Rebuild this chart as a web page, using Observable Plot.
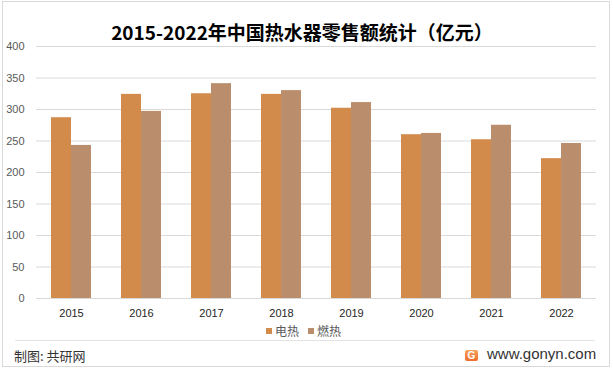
<!DOCTYPE html>
<html>
<head>
<meta charset="utf-8">
<script src="https://cdn.jsdelivr.net/npm/d3@7"></script>
<script src="https://cdn.jsdelivr.net/npm/@observablehq/plot@0.6"></script>
<style>
  html, body { margin: 0; padding: 0; background: #fff; }
  #wrap { position: relative; width: 613px; height: 368px; overflow: hidden; background: #fff; }
  #wrap svg { position: absolute; left: 0; top: 0; }
  .abs { position: absolute; white-space: nowrap; }
</style>
</head>
<body>
<div id="wrap">
  <div class="abs" style="left:2px;top:1px;width:606px;height:364px;border:1px solid #d9d9d9;"></div>
  <div id="chart"></div>
  <div class="abs" id="title" style="left:0;top:19px;width:604px;text-align:center;font-family:'Noto Sans CJK SC',sans-serif;font-weight:bold;font-size:19px;line-height:26px;color:#000;"></div>
  <div id="legend"></div>
  <div class="abs" style="left:15px;top:340px;width:580px;height:1px;background:#e3e3e3;"></div>
  <div class="abs" id="credit" style="left:14px;top:347px;font-family:'Noto Sans CJK SC',sans-serif;font-size:13px;line-height:18px;color:#333;"></div>
  <div class="abs" style="left:465px;top:350px;width:13px;height:11px;border-radius:2px;background:linear-gradient(180deg,#f7a35c,#ef6c2a);color:#fff;font:bold 10px/11px 'Liberation Sans',Arial,sans-serif;text-align:center;">G</div>
  <div class="abs" id="site" style="left:487px;top:345px;font-family:'Liberation Sans',Arial,sans-serif;font-size:15px;line-height:18px;color:#333;"></div>
</div>
<script>
const titleText = "2015-2022年中国热水器零售额统计（亿元）";
const years = ["2015","2016","2017","2018","2019","2020","2021","2022"];
const seriesNames = ["电热","燃热"];
const elec = [287,324,325,324,302,260,252,222];
const gas  = [243,297,341,330,311,262,275,246];
const yTicks = [0,50,100,150,200,250,300,350,400];
const colors = ["#D38B4C","#BA8E6C"];
const creditText = "制图: 共研网";
const siteText = "www.gonyn.com";

const data = years.map((y, i) => ({year: y, elec: elec[i], gas: gas[i]}));

const chart = Plot.plot({
  width: 613,
  height: 368,
  marginTop: 46,
  marginBottom: 70,
  marginLeft: 36,
  marginRight: 17,
  style: {fontFamily: "'Liberation Sans', Arial, sans-serif", fontSize: "11px", background: "transparent"},
  x: {domain: years, paddingInner: 30/70, paddingOuter: 15/70, label: null},
  y: {domain: [0, 400], label: null},
  marks: [
    Plot.ruleY(yTicks, {stroke: "#d9d9d9", strokeWidth: 1}),
    Plot.barY(data, {x: "year", y: "elec", fill: colors[0], insetRight: 20}),
    Plot.barY(data, {x: "year", y: "gas", fill: colors[1], insetLeft: 20}),
    Plot.axisY({ticks: yTicks, tickSize: 0, tickPadding: 12, fill: "#595959", label: null}),
    Plot.axisX({tickSize: 0, tickPadding: 11, fill: "#262626", label: null})
  ]
});
document.getElementById("chart").appendChild(chart);
document.getElementById("title").textContent = titleText;
document.getElementById("credit").textContent = creditText;
document.getElementById("site").textContent = siteText;

const legend = document.getElementById("legend");
const lx = [266, 308];
seriesNames.forEach((name, i) => {
  const sw = document.createElement("div");
  sw.className = "abs";
  sw.style.cssText = `left:${lx[i]}px;top:328px;width:6px;height:6px;background:${colors[i]};`;
  legend.appendChild(sw);
  const t = document.createElement("div");
  t.className = "abs";
  t.style.cssText = `left:${lx[i] + 9}px;top:322px;font-family:'Noto Sans CJK SC',sans-serif;font-size:12px;line-height:17px;color:#595959;`;
  t.textContent = name;
  legend.appendChild(t);
});
</script>
</body>
</html>
